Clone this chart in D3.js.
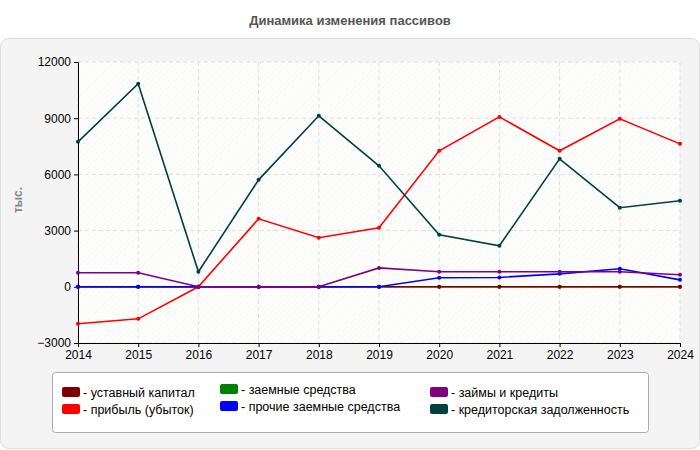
<!DOCTYPE html>
<html><head><meta charset="utf-8">
<script src="https://cdn.jsdelivr.net/npm/d3@7"></script>
<style>body{margin:0;background:#fff;font-family:Arial,"Liberation Sans",sans-serif}</style>
</head><body><svg id="c" width="700" height="450"></svg>
<script>
const years=[2014,2015,2016,2017,2018,2019,2020,2021,2022,2023,2024];
const capital=[0,0,0,0,0,0,0,0,0,0,0];
const profit=[-1970,-1710,0,3630,2620,3150,7260,9070,7260,8970,7630];
const borrowed=[0,0,0,0,0,0,0,0,0,0,0];
const otherBorrowed=[0,0,0,0,0,0,480,500,690,960,370];
const loans=[750,750,0,0,0,1010,800,800,800,800,640];
const payables=[7740,10840,800,5710,9130,6460,2780,2190,6830,4220,4590];
const yTicks=[-3000,0,3000,6000,9000,12000];
const series=[
 {name:"- уставный капитал",color:"#800000",v:capital,z:1},
 {name:"- прибыль (убыток)",color:"#ff0000",v:profit,z:2},
 {name:"- заемные средства",color:"#008000",v:borrowed,z:0},
 {name:"- прочие заемные средства",color:"#0000ff",v:otherBorrowed,z:3},
 {name:"- займы и кредиты",color:"#800080",v:loans,z:4},
 {name:"- кредиторская задолженность",color:"#004040",v:payables,z:5}];
const svg=d3.select("#c");
svg.append("text").attr("x",350).attr("y",25).attr("text-anchor","middle").attr("font-size",13).attr("font-weight","bold").attr("fill","#555").text("Динамика изменения пассивов");
svg.append("rect").attr("x",0.5).attr("y",38.5).attr("width",699).attr("height",410).attr("rx",8).attr("fill","#f4f4f4").attr("stroke","#ddd");
const L=78,R=680,T=62,B=343;
const x=d3.scaleLinear().domain([2014,2024]).range([L,R]);
const y=d3.scaleLinear().domain([-3000,12000]).range([B,T]);
const defs=svg.append("defs");
const p=defs.append("pattern").attr("id","h").attr("width",4).attr("height",4).attr("patternUnits","userSpaceOnUse").attr("patternTransform","rotate(45)");
p.append("rect").attr("width",4).attr("height",4).attr("fill","#fff");
p.append("line").attr("x1",0).attr("y1",0).attr("x2",0).attr("y2",4).attr("stroke","#f3f3ec").attr("stroke-width",1.5);
svg.append("rect").attr("x",L).attr("y",T).attr("width",R-L).attr("height",B-T).attr("fill","url(#h)");
const g=svg.append("g");
g.selectAll(".gy").data(yTicks).join("line").attr("x1",L).attr("x2",R).attr("y1",d=>y(d)).attr("y2",d=>y(d)).attr("stroke","#ddd").attr("stroke-dasharray","4,3");
g.selectAll(".gx").data(years).join("line").attr("x1",d=>x(d)).attr("x2",d=>x(d)).attr("y1",T).attr("y2",B).attr("stroke","#ddd").attr("stroke-dasharray","4,3");
svg.append("g").attr("transform",`translate(${L},0)`).call(d3.axisLeft(y).tickValues(yTicks).tickSize(4).tickFormat(d3.format("d"))).call(a=>a.selectAll("text").attr("font-size",12).attr("fill","#000"));
svg.append("g").attr("transform",`translate(0,${B})`).call(d3.axisBottom(x).tickValues(years).tickSize(4).tickFormat(d3.format("d"))).call(a=>a.selectAll("text").attr("font-size",12).attr("fill","#000"));
svg.append("text").attr("transform","translate(22,200) rotate(-90)").attr("text-anchor","middle").attr("font-size",12).attr("font-weight","bold").attr("fill","#888").text("тыс.");
const line=d3.line().x((d,i)=>x(years[i])).y(d=>y(d));
series.slice().sort((a,b)=>a.z-b.z).forEach(s=>{
 svg.append("path").attr("d",line(s.v)).attr("fill","none").attr("stroke",s.color).attr("stroke-width",1.6);
 svg.selectAll(null).data(s.v).join("circle").attr("cx",(d,i)=>x(years[i])).attr("cy",d=>y(d)).attr("r",2).attr("fill",s.color);
});
svg.append("rect").attr("x",52.5).attr("y",372.5).attr("width",596).attr("height",60).attr("rx",3).attr("fill","#fff").attr("stroke","#aaa");
const pos=[[62,393],[62,410],[220,390],[220,407],[430,393],[430,410]];
series.forEach((s,i)=>{
 const [lx,ly]=pos[i];
 svg.append("rect").attr("x",lx).attr("y",ly-6).attr("width",18).attr("height",10).attr("rx",2).attr("fill",s.color);
 svg.append("text").attr("x",lx+21).attr("y",ly+4).attr("font-size",12.5).attr("fill","#000").text(s.name);
});
</script></body></html>
